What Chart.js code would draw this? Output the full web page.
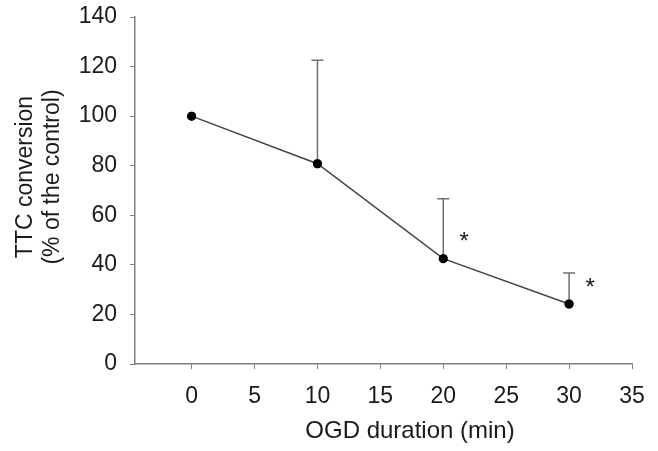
<!DOCTYPE html>
<html>
<head>
<meta charset="utf-8">
<script src="https://cdn.jsdelivr.net/npm/chart.js@4"></script>
<style>
  html, body { margin: 0; padding: 0; background: #fff; }
  #chart { display: block; }
</style>
</head>
<body>
<canvas id="chart" width="658" height="451"></canvas>
<script>
// OGD duration (min)
const durations = [0, 10, 20, 30];
// TTC conversion, % of control
const means = [100, 80.8, 42.5, 24.2];
// upper end of error bar (mean + SD)
const upperBounds = [100, 122.6, 66.7, 36.7];
// significance marks
const marks = ['', '', '*', '*'];

const xTicks = [0, 5, 10, 15, 20, 25, 30, 35];
const xTitle = 'OGD duration (min)';
const yTitle = ['TTC conversion', '(% of the control)'];

const axisGray = '#808080';
const textColor = '#1a1a1a';
const fontFamily = 'Arial, "Liberation Sans", sans-serif';

// Error bars, asterisks and axis titles drawn on top of the chart
const extrasPlugin = {
    id: 'extras',
    afterDatasetsDraw(chart) {
        const ctx = chart.ctx;
        const xs = chart.scales.x;
        const ys = chart.scales.y;
        ctx.save();
        ctx.strokeStyle = '#707070';
        ctx.lineWidth = 1.5;
        durations.forEach((d, i) => {
            if (upperBounds[i] <= means[i]) return;
            const px = xs.getPixelForValue(d);
            const py = ys.getPixelForValue(means[i]);
            const pu = ys.getPixelForValue(upperBounds[i]);
            ctx.beginPath();
            ctx.moveTo(px, py);
            ctx.lineTo(px, pu);
            ctx.moveTo(px - 6, pu);
            ctx.lineTo(px + 6, pu);
            ctx.stroke();
        });
        // redraw points so they sit over the bars
        const meta = chart.getDatasetMeta(0);
        meta.data.forEach(pt => pt.draw(ctx, chart.chartArea));

        ctx.fillStyle = textColor;
        ctx.font = '24px ' + fontFamily;
        ctx.textAlign = 'center';
        ctx.textBaseline = 'middle';
        durations.forEach((d, i) => {
            if (!marks[i]) return;
            const px = xs.getPixelForValue(d) + 21;
            const py = ys.getPixelForValue(means[i]) - 16;
            ctx.fillText(marks[i], px, py);
        });

        // x axis title
        ctx.font = '24px ' + fontFamily;
        ctx.fillText(xTitle, 410, 431);

        // y axis title, two lines
        ctx.font = '23px ' + fontFamily;
        ctx.translate(0, 177);
        ctx.rotate(-Math.PI / 2);
        ctx.fillText(yTitle[0], 0, 26);
        ctx.fillText(yTitle[1], 0, 53);
        ctx.restore();
    }
};

new Chart(document.getElementById('chart'), {
    type: 'scatter',
    data: {
        datasets: [{
            data: durations.map((d, i) => ({ x: d, y: means[i] })),
            showLine: true,
            borderColor: '#444',
            borderWidth: 1.5,
            pointRadius: 4.5,
            pointBackgroundColor: '#000',
            pointBorderColor: '#000',
            pointBorderWidth: 0
        }]
    },
    options: {
        responsive: false,
        animation: false,
        layout: { padding: { top: 17, right: 26, left: 0, bottom: 0 } },
        plugins: {
            legend: { display: false },
            tooltip: { enabled: false }
        },
        scales: {
            x: {
                type: 'linear',
                min: -4.5,
                max: 35,
                afterBuildTicks: (scale) => {
                    scale.ticks = xTicks.map(v => ({ value: v }));
                },
                afterFit: (scale) => {
                    scale.height = 87;
                    scale.paddingLeft = 0;
                    scale.paddingRight = 0;
                },
                grid: {
                    drawOnChartArea: false,
                    drawTicks: true,
                    tickLength: 5,
                    color: axisGray
                },
                border: { color: axisGray, width: 1.5 },
                ticks: {
                    padding: 14,
                    color: textColor,
                    font: { family: fontFamily, size: 23 }
                },
                title: { display: false }
            },
            y: {
                min: 0,
                max: 140,
                afterFit: (scale) => {
                    scale.width = 135;
                    scale.paddingTop = 0;
                    scale.paddingBottom = 0;
                },
                grid: {
                    drawOnChartArea: false,
                    drawTicks: true,
                    tickLength: 5,
                    color: axisGray
                },
                border: { color: axisGray, width: 1.5 },
                ticks: {
                    stepSize: 20,
                    padding: 13,
                    color: textColor,
                    font: { family: fontFamily, size: 23 }
                },
                title: { display: false }
            }
        }
    },
    plugins: [extrasPlugin]
});
</script>
</body>
</html>
